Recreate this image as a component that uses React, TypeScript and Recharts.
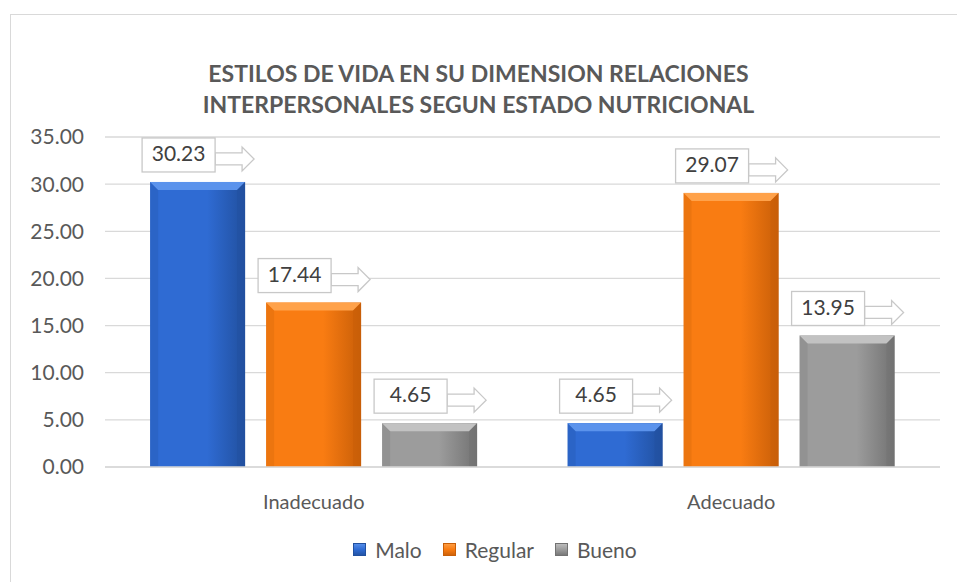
import { BarChart, Bar, XAxis, YAxis, CartesianGrid } from 'recharts';

const categories = ['Inadecuado', 'Adecuado'];
const malo = [30.23, 4.65];
const regular = [17.44, 29.07];
const bueno = [4.65, 13.95];
const yTicks = [0, 5, 10, 15, 20, 25, 30, 35];

const seriesInfo = [
  { key: 'malo', name: 'Malo', light: '#5b93ec', mid: '#2f6bd3', dark: '#21509f' },
  { key: 'regular', name: 'Regular', light: '#ffa24a', mid: '#f97c12', dark: '#c85e08' },
  { key: 'bueno', name: 'Bueno', light: '#c2c2c2', mid: '#9c9c9c', dark: '#727272' },
];

const chartData = categories.map((c, i) => ({
  name: c,
  malo: malo[i],
  regular: regular[i],
  bueno: bueno[i],
}));

const FONT = 'Lato, "Open Sans", sans-serif';

// bar with a bevel, like the office 3D preset
const makeShape = (s: typeof seriesInfo[number]) => (props: any) => {
  const { x, y, width, height } = props;
  if (!height || height <= 0) return null;
  const b = Math.min(8, height / 2);
  return (
    <g>
      <rect x={x} y={y} width={width} height={height} fill={`url(#grad-${s.key})`} />
      <polygon points={`${x},${y} ${x + width},${y} ${x + width - b},${y + b} ${x + b},${y + b}`} fill={s.light} />
      <polygon points={`${x},${y} ${x + b},${y + b} ${x + b},${y + height} ${x},${y + height}`} fill={s.dark} opacity={0.25} />
      <polygon points={`${x + width},${y} ${x + width - b},${y + b} ${x + width - b},${y + height} ${x + width},${y + height}`} fill={s.dark} opacity={0.5} />
    </g>
  );
};

const CalloutLabel = (props: any) => {
  const { x, y, value } = props;
  const bx = x - 8;
  const bw = 73;
  const bh = 34;
  const by = y - 10 - bh;
  const ax = bx + bw;
  const cy = by + 21;
  const arrow = `${ax},${cy - 6} ${ax + 27},${cy - 6} ${ax + 27},${cy - 12} ${ax + 39},${cy} ${ax + 27},${cy + 12} ${ax + 27},${cy + 6} ${ax},${cy + 6}`;
  return (
    <g>
      <polygon points={arrow} fill="#fff" stroke="#c8c8c8" strokeWidth={1.3} />
      <rect x={bx} y={by} width={bw} height={bh} fill="#fff" stroke="#c8c8c8" strokeWidth={1.3} />
      <text x={bx + bw / 2} y={by + bh / 2 + 1} textAnchor="middle" dominantBaseline="middle" fontSize={21} fill="#404040" fontFamily={FONT}>
        {Number(value).toFixed(2)}
      </text>
    </g>
  );
};

export default function App() {
  return (
    <div style={{ position: 'absolute', left: 0, top: 0, width: 957, height: 582, background: '#fff', overflow: 'hidden', fontFamily: FONT }}>
      <div style={{ position: 'absolute', left: 10, top: 14, width: 960, height: 600, border: '1.5px solid #d9d9d9', boxSizing: 'border-box' }} />
      <div style={{ position: 'absolute', left: 0, top: 58, width: 957, textAlign: 'center', fontWeight: 700, fontSize: 23, lineHeight: '31px', color: '#595959' }}>
        ESTILOS DE VIDA EN SU DIMENSION RELACIONES
        <br />
        INTERPERSONALES SEGUN ESTADO NUTRICIONAL
      </div>
      <div style={{ position: 'absolute', left: 0, top: 0 }}>
        <BarChart
          width={957}
          height={582}
          data={chartData}
          margin={{ top: 137, right: 17, left: 0, bottom: 85 }}
          barCategoryGap="10.8%"
          barGap={21}
        >
          <defs>
            {seriesInfo.map((s) => (
              <linearGradient key={s.key} id={`grad-${s.key}`} x1="0" y1="0" x2="1" y2="0">
                <stop offset="0%" stopColor={s.mid} />
                <stop offset="60%" stopColor={s.mid} />
                <stop offset="100%" stopColor={s.dark} />
              </linearGradient>
            ))}
          </defs>
          <CartesianGrid vertical={false} stroke="#d9d9d9" strokeWidth={1.3} />
          <XAxis
            dataKey="name"
            tickLine={false}
            axisLine={{ stroke: '#d9d9d9', strokeWidth: 1.3 }}
            tick={{ fill: '#595959', fontSize: 20, fontFamily: FONT }}
            tickMargin={22}
          />
          <YAxis
            width={105}
            domain={[0, 35]}
            ticks={yTicks}
            tickFormatter={(v: number) => v.toFixed(2)}
            tickLine={false}
            axisLine={false}
            tickSize={0}
            tickMargin={21}
            tick={{ fill: '#595959', fontSize: 21, fontFamily: FONT }}
          />
          {seriesInfo.map((s) => (
            <Bar
              key={s.key}
              dataKey={s.key}
              name={s.name}
              fill={s.mid}
              shape={makeShape(s)}
              label={<CalloutLabel />}
              isAnimationActive={false}
            />
          ))}
        </BarChart>
      </div>
      <div style={{ position: 'absolute', top: 537, left: 0, width: 990, display: 'flex', justifyContent: 'center', gap: 21, fontSize: 21, color: '#595959' }}>
        {seriesInfo.map((s) => (
          <div key={s.key} style={{ display: 'flex', alignItems: 'center', gap: 9 }}>
            <span style={{ display: 'inline-block', width: 13, height: 13, background: `linear-gradient(180deg, ${s.light}, ${s.mid} 50%, ${s.dark})`, boxShadow: `inset 0 0 0 1px ${s.dark}` }} />
            <span>{s.name}</span>
          </div>
        ))}
      </div>
    </div>
  );
}
